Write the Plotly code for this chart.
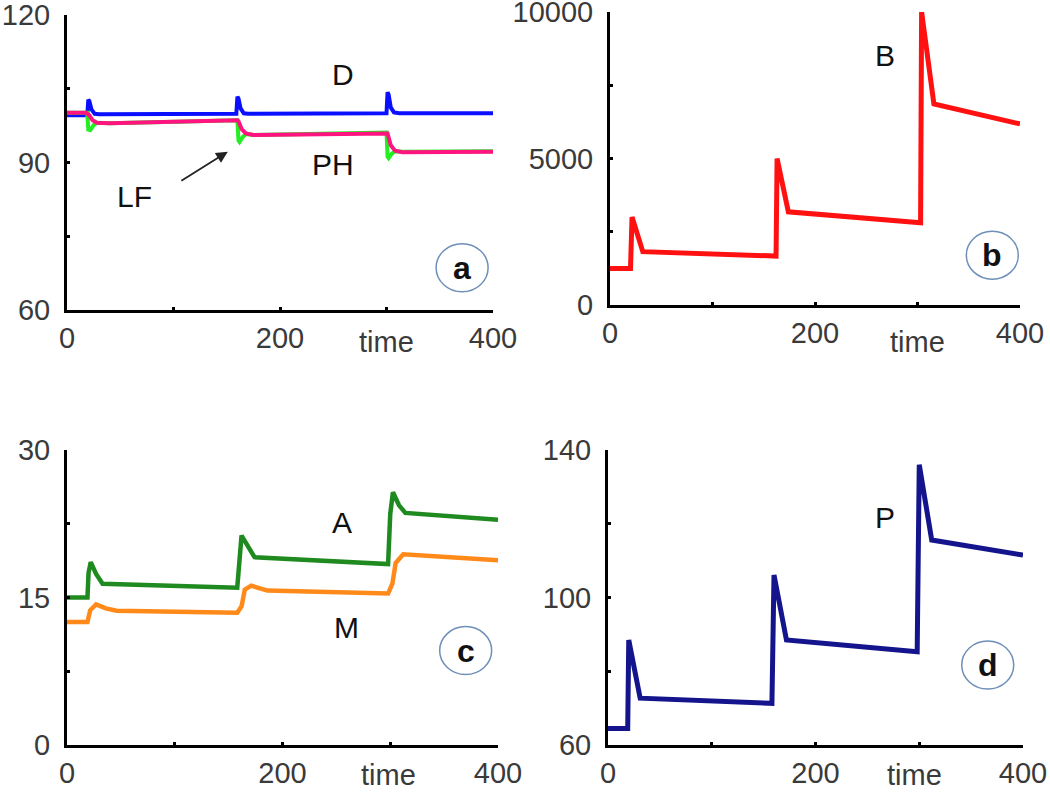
import plotly.graph_objects as go

W, H = 1050, 792

# ---------------- data ----------------
# panel a
t_D = [0, 19, 20, 21, 23, 26, 30, 159, 160, 161, 163, 166, 170, 300, 301, 302, 304, 307, 312, 400]
v_D = [99.6, 99.6, 102.8, 102.5, 100.8, 99.9, 99.8, 99.9, 103.4, 103.0, 101.0, 100.0, 99.9, 100.0, 104.3, 103.8, 101.2, 100.2, 100.0, 100.0]

t_LF = [0, 19, 20, 22, 25, 28, 40, 160, 161, 162, 165, 168, 175, 300, 301, 302, 305, 308, 315, 400]
v_LF = [100.1, 100.1, 96.7, 96.6, 97.6, 98.1, 98.0, 98.6, 94.5, 94.2, 95.2, 95.8, 95.6, 96.1, 91.2, 90.9, 91.8, 92.3, 92.2, 92.3]

t_PH = [0, 18, 21, 24, 28, 40, 160, 161, 164, 168, 175, 300, 301, 304, 308, 315, 400]
v_PH = [100.1, 100.1, 99.6, 98.6, 98.1, 98.0, 98.6, 98.4, 96.8, 95.9, 95.6, 96.1, 95.9, 93.5, 92.4, 92.1, 92.2]

# panel b
t_B = [0, 20, 21.5, 32, 162, 163, 174, 303, 304, 316, 400]
v_B = [1250, 1250, 3000, 1820, 1670, 5000, 3180, 2810, 10000, 6860, 6180]

# panel c
t_A = [0, 19, 20, 22, 27, 33, 158, 160, 162, 168, 174, 298, 300, 302.5, 308, 314, 400]
v_A = [15.0, 15.0, 17.5, 18.6, 17.4, 16.4, 16.0, 19.5, 21.3, 20.2, 19.1, 18.4, 23.5, 25.7, 24.4, 23.6, 22.9]

t_M = [0, 19, 21.5, 27, 36, 46, 158, 162, 165, 171, 186, 298, 302, 305, 312, 400]
v_M = [12.5, 12.5, 13.7, 14.3, 13.9, 13.65, 13.45, 14.1, 15.8, 16.2, 15.7, 15.4, 16.4, 18.5, 19.4, 18.8]

# panel d
t_P = [0, 19, 20, 31, 158, 160, 172, 298, 300, 312, 400]
v_P = [64.5, 64.5, 88.5, 72.7, 71.3, 106.1, 88.5, 85.3, 136.0, 115.6, 111.5]

x_ticks = [0, 100, 200, 300, 400]
x_ticktext = ["0", "", "200", "", "400"]
ya_ticks = [60, 75, 90, 105, 120]
ya_text = ["60", "", "90", "", "120"]
yb_ticks = [0, 2500, 5000, 7500, 10000]
yb_text = ["0", "", "5000", "", "10000"]
yc_ticks = [0, 7.5, 15, 22.5, 30]
yc_text = ["0", "", "15", "", "30"]
yd_ticks = [60, 80, 100, 120, 140]
yd_text = ["60", "", "100", "", "140"]

# ---------------- figure ----------------
fig = go.Figure()

def add(t, v, color, width, ax):
    fig.add_trace(go.Scatter(x=t, y=v, mode="lines",
                             line=dict(color=color, width=width),
                             xaxis="x" + ax, yaxis="y" + ax, showlegend=False,
                             hoverinfo="skip"))

add(t_D, v_D, "#0a10ff", 4, "")
add(t_LF, v_LF, "#22ee22", 4, "")
add(t_PH, v_PH, "#ff1480", 4, "")
add(t_B, v_B, "#ff1111", 5, "2")
add(t_A, v_A, "#1f8a1f", 4.5, "3")
add(t_M, v_M, "#ff8a1a", 4.5, "3")
add(t_P, v_P, "#14148c", 5, "4")

def px_x(p):
    return p / W

def px_y(p):
    return 1 - p / H

FONT = "Liberation Sans, Arial, sans-serif"
tickfont = dict(family=FONT, size=29, color="#3a3a3a")

def xax(l, r, y_anchor):
    return dict(domain=[px_x(l), px_x(r)], range=[0, 400], anchor=y_anchor,
                tickvals=x_ticks, ticktext=x_ticktext, ticks="inside", ticklen=3,
                tickwidth=3, tickcolor="black", showline=True, linecolor="black",
                linewidth=3, showgrid=False, zeroline=False, tickfont=tickfont,
                ticklabelstandoff=0, fixedrange=True, automargin=False,
                ticklabeloverflow="allow")

def yax(b, t, rng, tv, tt, x_anchor):
    return dict(domain=[px_y(b), px_y(t)], range=rng, anchor=x_anchor,
                tickvals=tv, ticktext=tt, ticks="inside", ticklen=3,
                tickwidth=3, tickcolor="black", showline=True, linecolor="black",
                linewidth=3, showgrid=False, zeroline=False, tickfont=tickfont,
                ticklabelstandoff=8, fixedrange=True, automargin=False,
                ticklabeloverflow="allow")

fig.update_layout(
    width=W, height=H,
    margin=dict(l=0, r=0, t=0, b=0),
    paper_bgcolor="white", plot_bgcolor="white",
    xaxis=xax(67, 493, "y"),
    yaxis=yax(310, 15, [60, 120], ya_ticks, ya_text, "x"),
    xaxis2=xax(610, 1020, "y2"),
    yaxis2=yax(305, 12, [0, 10000], yb_ticks, yb_text, "x2"),
    xaxis3=xax(67, 498, "y3"),
    yaxis3=yax(745, 450, [0, 30], yc_ticks, yc_text, "x3"),
    xaxis4=xax(608, 1023, "y4"),
    yaxis4=yax(745, 450, [60, 140], yd_ticks, yd_text, "x4"),
)

labfont = dict(family=FONT, size=30, color="#111111")
timefont = dict(family=FONT, size=29, color="#3a3a3a")

annotations = []

def label(text, x, y, ax):
    annotations.append(dict(text=text, x=x, y=y, xref="x" + ax, yref="y" + ax,
                            showarrow=False, font=labfont, xanchor="center", yanchor="middle"))

label("D", 259, 107.8, "")
label("PH", 250, 89.5, "")
label("LF", 63, 83.0, "")
label("B", 268, 8530, "2")
label("A", 255, 22.6, "3")
label("M", 259, 11.9, "3")
label("P", 267, 121.6, "4")

# LF arrow
annotations.append(dict(text="", x=151, y=92.2, ax=106, ay=86.1, xref="x", yref="y",
                        axref="x", ayref="y", showarrow=True, arrowhead=2,
                        arrowsize=1.3, arrowwidth=1.8, arrowcolor="#222222"))

# "time" labels
for ax, xv, ypx in [("", 300, 342), ("2", 300, 342), ("3", 298, 775), ("4", 295, 775)]:
    annotations.append(dict(text="time", x=xv, y=px_y(ypx), xref="x" + ax, yref="paper",
                            showarrow=False, font=timefont, xanchor="center", yanchor="middle"))

# circled panel letters
circfont = dict(family=FONT, size=32, color="#111111")
shapes = []
for ax, letter, xv, yv in [("", "a", 371, 68.6), ("2", "b", 373, 1700),
                           ("3", "c", 370, 9.6), ("4", "d", 366, 81.7)]:
    shapes.append(dict(type="circle", xref="x" + ax, yref="y" + ax,
                       xsizemode="pixel", ysizemode="pixel", xanchor=xv, yanchor=yv,
                       x0=-26, x1=26, y0=-24, y1=24,
                       line=dict(color="#6e8fb8", width=1.5)))
    annotations.append(dict(text="<b>" + letter + "</b>", x=xv, y=yv,
                            xref="x" + ax, yref="y" + ax, showarrow=False,
                            font=circfont, xanchor="center", yanchor="middle"))

fig.update_layout(annotations=annotations, shapes=shapes)

# remove the default page margin so the 1050x792 figure fills the window exactly
fig.write_html("out.html", config={"displayModeBar": False},
               post_script="document.body.style.margin='0px';document.body.style.overflow='hidden';")
